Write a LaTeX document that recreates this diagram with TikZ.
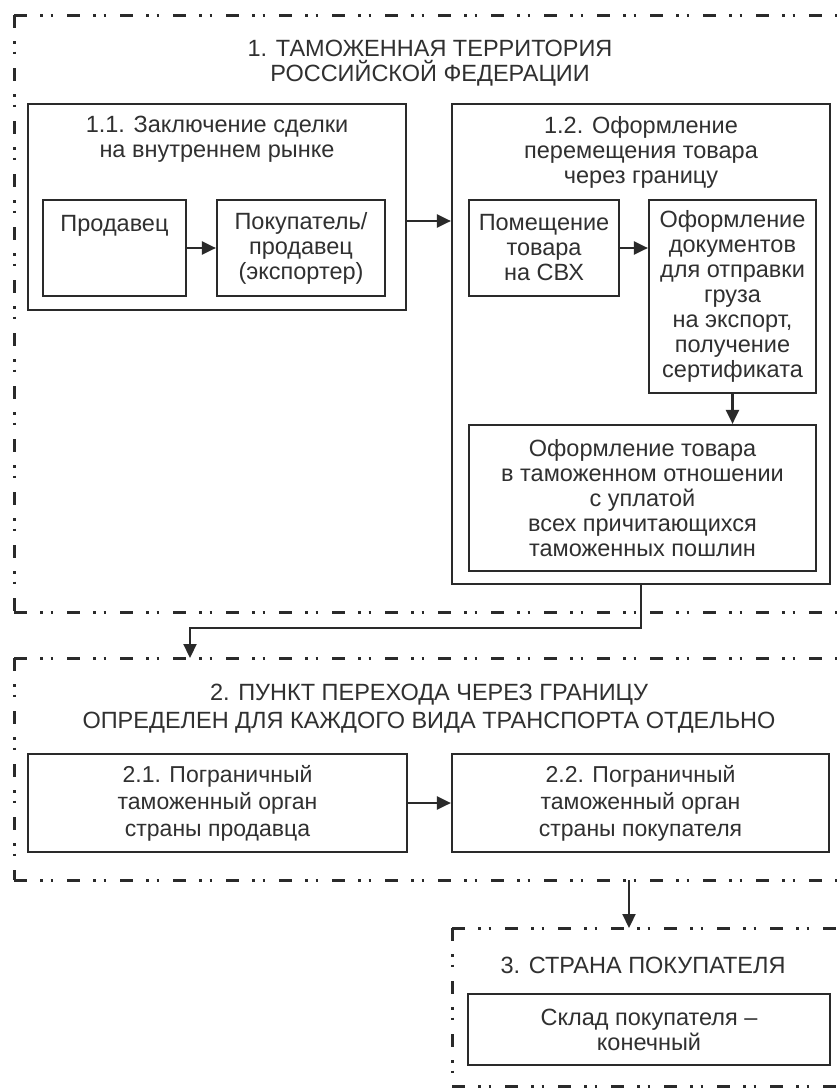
\documentclass[tikz,border=0pt]{standalone}
\usepackage{fontspec}
\setmainfont{Liberation Sans}
\usetikzlibrary{arrows.meta}
\definecolor{ink}{HTML}{2A2A2A}
\definecolor{txt}{HTML}{303030}
\begin{document}
\begin{tikzpicture}[x=1pt,y=-1pt,
  every node/.style={text=txt,font=\fontsize{23.5}{25}\selectfont},
  boxx/.style={draw=ink,line width=2.2pt,rectangle,inner sep=0pt,align=center},
  frame/.style={draw=ink,line width=3pt,dash pattern=on 13pt off 13pt on 2.5pt off 8pt on 2.5pt off 14pt},
  arr/.style={draw=ink,line width=2.2pt,-{Triangle[length=14pt,width=13pt]}}]
\useasboundingbox (0,0) rectangle (837,1092);
\fill[white] (0,0) rectangle (837,1092);

% frames
\draw[frame] (14,15) -- (850,15);
\draw[frame] (14,15) -- (14,612);
\draw[frame] (14,612) -- (850,612);
\draw[frame] (14,658) -- (850,658);
\draw[frame] (14,658) -- (14,880);
\draw[frame] (14,880) -- (850,880);
\draw[frame] (452,928) -- (850,928);
\draw[frame] (452,928) -- (452,1086);
\draw[frame] (452,1086) -- (850,1086);

% section 1
\node (t1) at (430,63) [align=center] {1. ТАМОЖЕННАЯ ТЕРРИТОРИЯ\\РОССИЙСКОЙ ФЕДЕРАЦИИ};

\node (b11) at (217,207) [boxx,minimum width=378pt,minimum height=206pt,
  label={[anchor=north,align=center,yshift=-10pt]north:1.1. Заключение сделки\\на внутреннем рынке}] {};
\node (prod) at (114.5,248) [boxx,minimum width=143pt,minimum height=96pt] {Продавец\\\phantom{П}\\\phantom{П}};
\node (pok) at (301,248) [boxx,minimum width=168pt,minimum height=96pt] {Покупатель/\\продавец\\(экспортер)};

\node (b12) at (641,344) [boxx,minimum width=378pt,minimum height=480pt,
  label={[anchor=north,align=center,yshift=-10pt]north:1.2. Оформление\\перемещения товара\\через границу}] {};
\node (pom) at (544,248) [boxx,minimum width=150pt,minimum height=96pt] {Помещение\\товара\\на СВХ};
\node (ofd) at (732.5,296.5) [boxx,minimum width=167pt,minimum height=193pt] {Оформление\\документов\\для отправки\\груза\\на экспорт,\\получение\\сертификата};
\node (bot) at (642.5,498) [boxx,minimum width=347pt,minimum height=146pt] {Оформление товара\\в таможенном отношении\\с уплатой\\всех причитающихся\\таможенных пошлин};

% section 2
\node (t2) at (429,709) [align=center,font=\fontsize{23.5}{28}\selectfont] {2. ПУНКТ ПЕРЕХОДА ЧЕРЕЗ ГРАНИЦУ\\ОПРЕДЕЛЕН ДЛЯ КАЖДОГО ВИДА ТРАНСПОРТА ОТДЕЛЬНО};
\node (b21) at (217.5,803) [boxx,minimum width=379pt,minimum height=98pt,font=\fontsize{23}{27}\selectfont] {2.1. Пограничный\\таможенный орган\\страны продавца};
\node (b22) at (640.5,803) [boxx,minimum width=377pt,minimum height=98pt,font=\fontsize{23}{27}\selectfont] {2.2. Пограничный\\таможенный орган\\страны покупателя};

% section 3
\node (t3) at (643,965) {3. СТРАНА ПОКУПАТЕЛЯ};
\node (b31) at (649,1029.5) [boxx,minimum width=362pt,minimum height=71pt] {Склад покупателя –\\конечный};

% connectors
\coordinate (s2in) at (190,658);
\coordinate (s2out) at (629,880);
\coordinate (s3in) at (629,928);
\draw[arr] (prod.east) -- (pok.west);
\draw[arr] ([yshift=-14pt]b11.east) -- ([yshift=-14pt]b11.east -| b12.west);
\draw[arr] (pom.east) -- (pom.east -| ofd.west);
\draw[arr] (ofd.south) -- (ofd.south |- bot.north);
\draw[arr] (b12.south) -- ++(0,43) -| (s2in);
\draw[arr] (b21.east) -- (b22.west);
\draw[arr] (s2out) -- (s3in);
\end{tikzpicture}
\end{document}
